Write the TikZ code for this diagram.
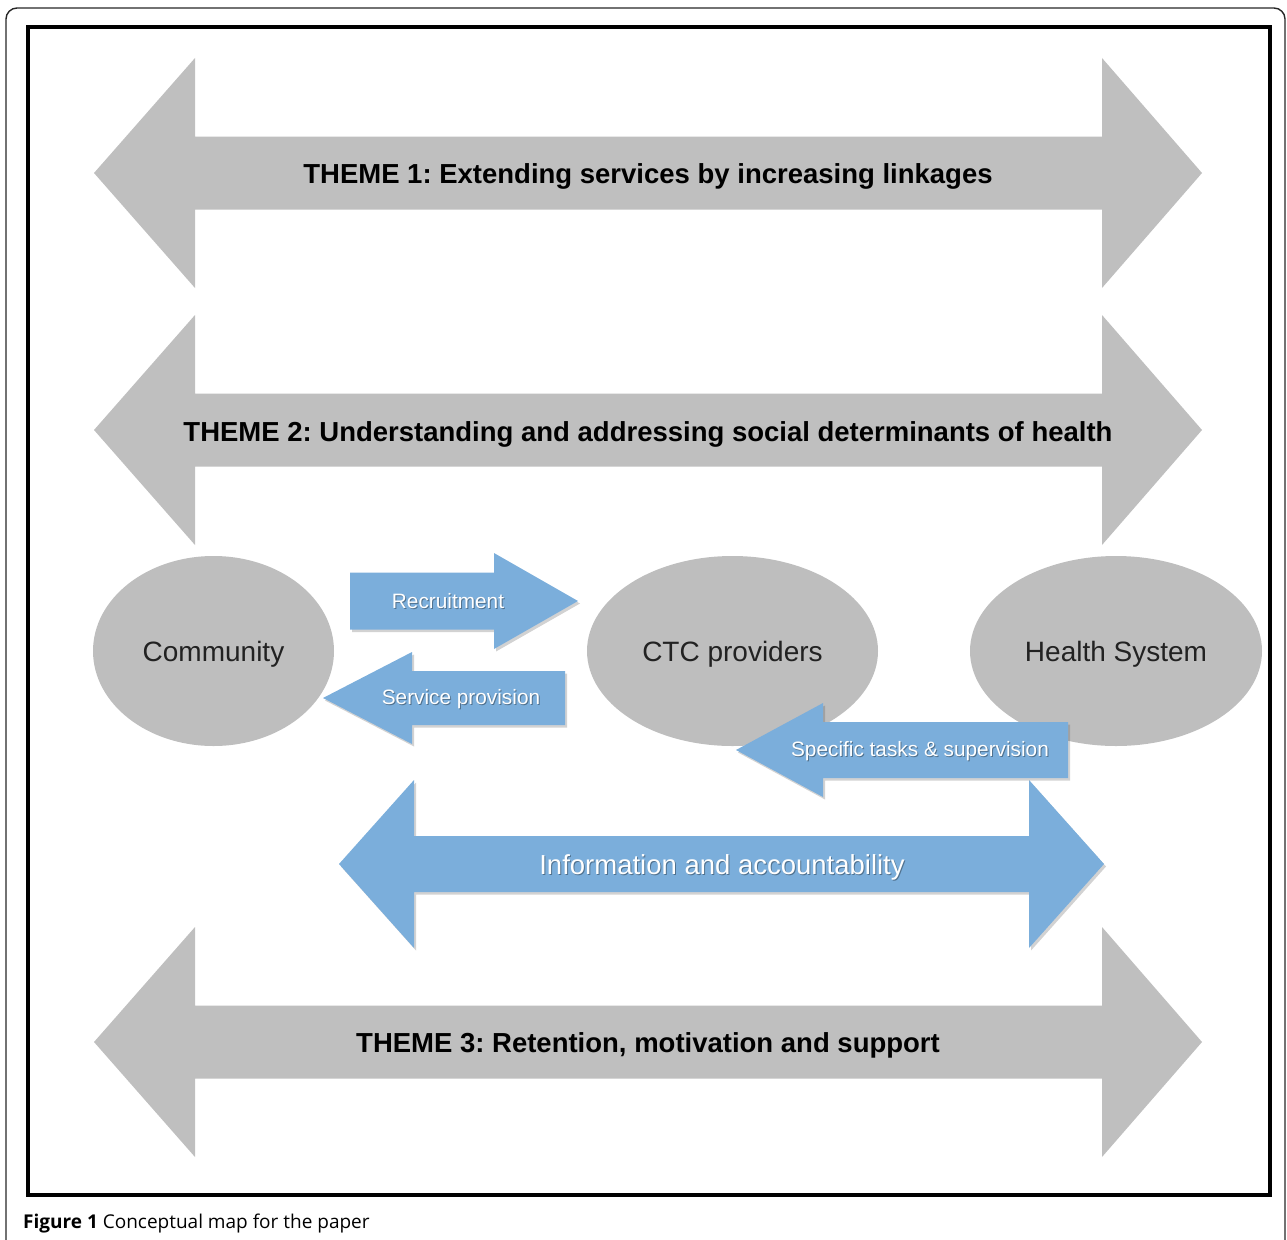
\documentclass[tikz,border=0pt]{standalone}
\usepackage{fontspec}
\setmainfont{Liberation Sans}
\newfontfamily\capfont{Open Sans}
\usetikzlibrary{shapes.geometric,shadows}
\definecolor{themegray}{HTML}{BFBFBF}
\definecolor{ellgray}{HTML}{BEBEBE}
\definecolor{blueA}{HTML}{7BAEDB}
\definecolor{elltext}{HTML}{222222}
\frenchspacing
% double-headed block arrow: left tip x, left base x, right base x, right tip x, centre y, shaft half, head half
\newcommand\dblblock[8]{%
  \path[#8] (#1,#5) -- (#2,{#5-#7}) -- (#2,{#5-#6}) -- (#3,{#5-#6}) -- (#3,{#5-#7})
    -- (#4,#5) -- (#3,{#5+#7}) -- (#3,{#5+#6}) -- (#2,{#5+#6}) -- (#2,{#5+#7}) -- cycle;}
% right-pointing block arrow: tail x, base x, tip x, centre y, shaft half, head half
\newcommand\rblock[7]{%
  \path[#7] (#1,{#4-#5}) -- (#2,{#4-#5}) -- (#2,{#4-#6}) -- (#3,#4) -- (#2,{#4+#6})
    -- (#2,{#4+#5}) -- (#1,{#4+#5}) -- cycle;}
\newcommand\bluelabel[4]{%
  \node[#4, text=black, text opacity=0.35, xshift=1pt, yshift=-1.5pt] at (#2) {#3};
  \node[#4] (#1) at (#2) {#3};}
\begin{document}
\begin{tikzpicture}[x=1pt,y=-1pt,
  themearrow/.style={fill=themegray},
  themetext/.style={anchor=base, inner sep=0, font=\bfseries\fontsize{27.5}{33}\selectfont, text=black},
  ellnode/.style={ellipse, fill=ellgray, inner sep=0, text=elltext, text height=20pt, text depth=0pt, font=\fontsize{28}{33}\selectfont},
  bluearrow/.style={fill=blueA, drop shadow={shadow xshift=2pt, shadow yshift=-2.5pt, opacity=0.25, fill=black!70}},
  bluesmall/.style={anchor=base, inner sep=0, text=white, font=\fontsize{20.8}{25}\selectfont},
  bluebig/.style={anchor=base, inner sep=0, text=white, font=\fontsize{27.5}{33}\selectfont},
  frameline/.style={line width=4pt, draw=black}]
\useasboundingbox (0,0) rectangle (1287,1239);
\begin{scope}
\clip (0,0) rectangle (1287,1239);
\draw[line width=1.4pt, draw=black!85, rounded corners=11pt] (6,8) rectangle (1285,1270);
\end{scope}
\draw[frameline] (28,27) rectangle (1270,1195);

% theme arrows
\dblblock{94}{195}{1102}{1202}{173}{36.5}{115}{themearrow}
\dblblock{94}{195}{1102}{1202}{430}{36.5}{115}{themearrow}
\dblblock{94}{195}{1102}{1202}{1042}{36.5}{115}{themearrow}
\node[themetext] (t1) at (648,183) {THEME 1: Extending services by increasing linkages};
\node[themetext] (t2) at (648,441) {THEME 2: Understanding and addressing social determinants of health};
\node[themetext] (t3) at (648,1052) {THEME 3: Retention, motivation and support};

% ellipses
\node[ellnode, minimum width=241pt, minimum height=190pt] (community) at (213.5,651) {Community};
\node[ellnode, minimum width=291pt, minimum height=190pt] (ctc) at (732.5,651) {CTC providers};
\node[ellnode, minimum width=292pt, minimum height=190pt] (health) at (1116,651) {Health System};

% blue arrows
\rblock{350}{494}{578}{601}{28.5}{48}{bluearrow}
\bluelabel{recruit}{448,608}{Recruitment}{bluesmall}
\rblock{565}{412}{323}{698}{27}{46}{bluearrow}
\bluelabel{service}{461,704}{Service provision}{bluesmall}
\dblblock{339}{414}{1029}{1104}{864}{28}{84}{bluearrow}
\bluelabel{info}{722,874}{Information and accountability}{bluebig}
\rblock{1068}{823}{736}{750}{28}{47}{bluearrow}
\bluelabel{tasks}{920,756}{Specific tasks \& supervision}{bluesmall}

% caption
\node[anchor=base west, inner sep=0, font=\capfont\fontsize{19}{23}\selectfont, text=black] (caption) at (23,1228) {\textbf{Figure 1} Conceptual map for the paper};
\end{tikzpicture}
\end{document}
